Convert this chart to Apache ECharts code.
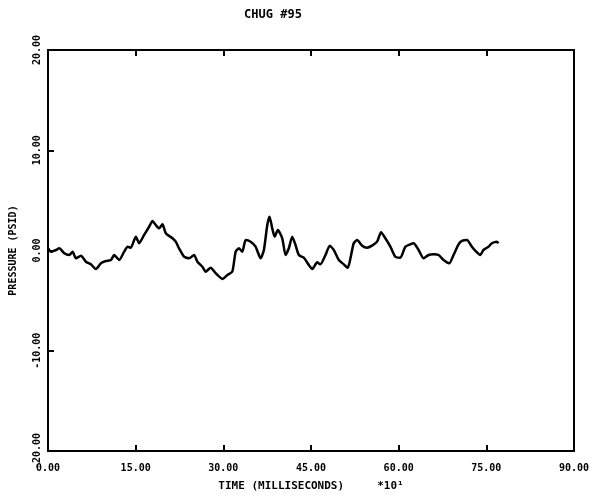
<!DOCTYPE html>
<html><head><meta charset="utf-8">
<script src="https://cdn.jsdelivr.net/npm/echarts@6/dist/echarts.min.js"></script>
<style>html,body{margin:0;padding:0;background:#fff}#c{width:604px;height:500px}</style>
</head><body><div id="c"></div>
<script>
const titleText = "CHUG #95";
const xName = "TIME (MILLISECONDS)     *10\u00b9";
const yName = "PRESSURE (PSID)";
const xTicks = [0, 15, 30, 45, 60, 75, 90];
const yTicks = [-20, -10, 0, 10, 20];
const time = [0,0.51,1.37,1.93,2.78,3.64,4.22,4.78,5.64,6.49,7.34,8.20,9.05,9.91,10.76,11.32,12.18,13.03,13.61,14.17,15.03,15.59,16.45,17.30,17.88,18.44,19.01,19.59,20.15,21.30,21.86,22.42,23.28,24.13,24.99,25.57,26.42,26.98,27.84,28.69,29.84,30.69,31.54,32.11,32.67,33.25,33.82,34.67,35.52,36.38,36.94,37.52,37.91,38.37,38.77,39.33,40.08,40.65,41.21,41.79,42.35,42.92,43.77,44.63,45.21,46.06,46.62,47.48,48.21,48.90,49.75,50.60,51.29,51.75,52.31,52.89,53.75,54.60,55.45,56.31,56.99,57.72,58.58,59.43,60.29,61.14,61.99,62.56,63.41,64.27,65.12,65.97,66.83,67.68,68.65,69.39,70.24,70.82,71.68,72.53,73.27,73.95,74.51,75.37,75.95,76.80,77.07];
const pressure = [0.22,-0.12,0.05,0.22,-0.28,-0.45,-0.12,-0.78,-0.52,-1.12,-1.38,-1.85,-1.28,-1.05,-0.95,-0.45,-0.95,-0.12,0.38,0.28,1.38,0.72,1.55,2.37,2.94,2.54,2.21,2.61,1.72,1.22,0.88,0.22,-0.62,-0.78,-0.45,-1.12,-1.62,-2.11,-1.72,-2.27,-2.84,-2.44,-2.11,-0.12,0.22,-0.12,1.05,0.88,0.38,-0.78,0.05,2.54,3.37,2.21,1.38,2.04,1.22,-0.45,0.22,1.38,0.55,-0.45,-0.72,-1.45,-1.85,-1.18,-1.38,-0.45,0.48,0.05,-0.95,-1.38,-1.72,-0.78,0.72,1.05,0.48,0.28,0.48,0.88,1.82,1.22,0.38,-0.62,-0.72,0.38,0.62,0.72,0.05,-0.78,-0.45,-0.38,-0.45,-0.95,-1.28,-0.45,0.62,0.95,1.05,0.38,-0.12,-0.45,0.05,0.38,0.72,0.88,0.72];

const font = "'DejaVu Sans Mono', monospace";
const chart = echarts.init(document.getElementById('c'), null, {renderer:'canvas'});
const axisLine = {show:true, onZero:false, lineStyle:{color:'#000', width:2}};
const tick = {show:true, inside:true, length:6, lineStyle:{color:'#000', width:2}};
chart.setOption({
  animation:false,
  backgroundColor:'#fff',
  title:{text:titleText, left:268, top:4, textAlign:'center',
    textStyle:{fontFamily:font, fontSize:12, fontWeight:'bold', color:'#000'}},
  grid:{left:47, right:30, top:50, bottom:49, show:false},
  xAxis:[{
    type:'value', min:0, max:90, interval:15, position:'bottom',
    name:xName, nameLocation:'middle', nameGap:30,
    nameTextStyle:{fontFamily:font, fontSize:11, fontWeight:'bold', color:'#000'},
    axisLine:axisLine, axisTick:tick,
    axisLabel:{fontFamily:font, fontSize:10, fontWeight:'bold', color:'#000', margin:12,
      formatter:v=>xTicks.includes(v)?v.toFixed(2):''},
    splitLine:{show:false}
  },{
    type:'value', min:0, max:90, interval:15, position:'top',
    axisLine:axisLine, axisTick:tick,
    axisLabel:{show:false}, splitLine:{show:false}
  }],
  yAxis:[{
    type:'value', min:-20, max:20, interval:10, position:'left',
    name:yName, nameLocation:'middle', nameGap:30, nameRotate:90,
    nameTextStyle:{fontFamily:font, fontSize:10, fontWeight:'bold', color:'#000'},
    axisLine:axisLine, axisTick:tick,
    axisLabel:{rotate:90, fontFamily:font, fontSize:10, fontWeight:'bold', color:'#000', margin:6,
      formatter:v=>yTicks.includes(v)?v.toFixed(2):''},
    splitLine:{show:false}
  },{
    type:'value', min:-20, max:20, interval:10, position:'right',
    axisLine:axisLine, axisTick:{show:false}, axisLabel:{show:false}, splitLine:{show:false}
  }],
  series:[{
    type:'line', data:time.map((t,i)=>[t,pressure[i]]),
    smooth:0.2, symbol:'none', lineStyle:{color:'#000', width:2.5}
  }]
});
</script></body></html>
